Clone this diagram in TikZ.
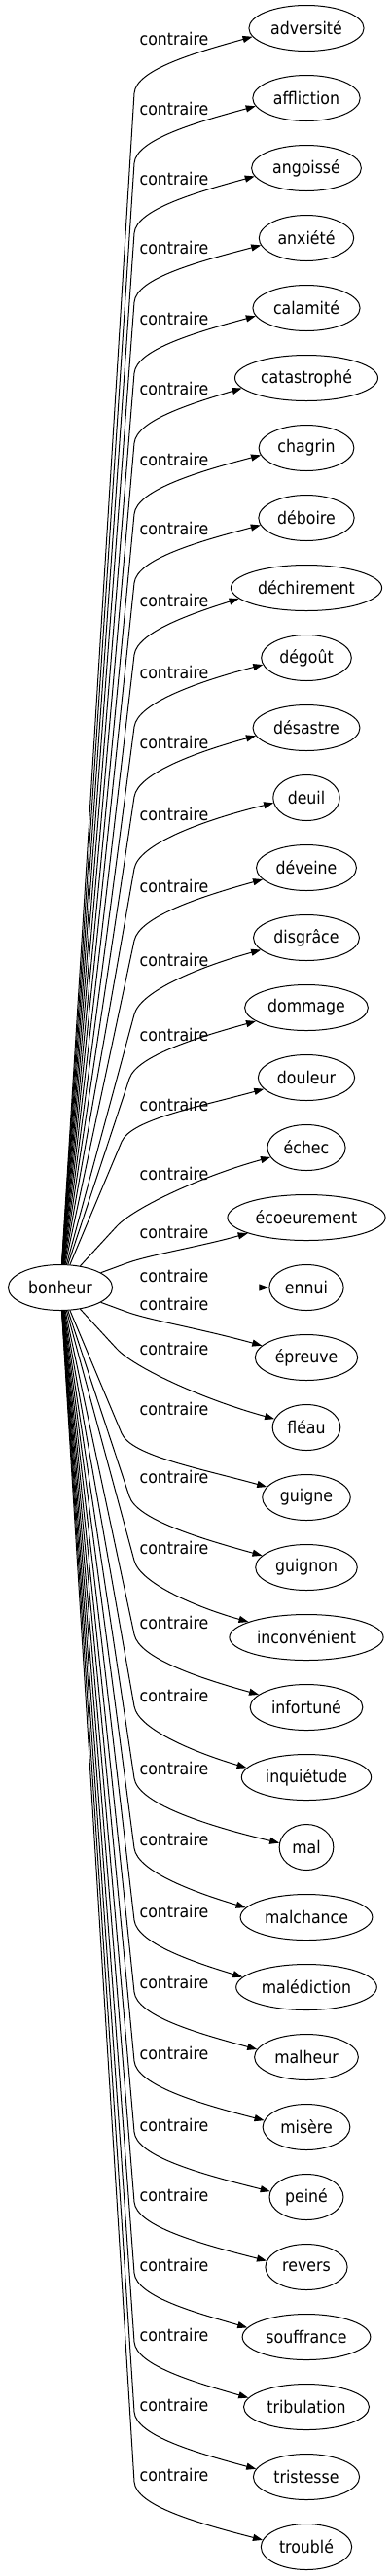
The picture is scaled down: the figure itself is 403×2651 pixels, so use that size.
\documentclass[tikz,border=0pt]{standalone}
\usepackage{fontspec}
\setmainfont{DejaVu Sans}[FakeStretch=0.9]
\usetikzlibrary{arrows.meta,shapes.geometric,calc}

\begin{document}
\begin{tikzpicture}[x=1pt,y=-1pt,line width=1pt,
    >={Triangle[length=10pt,width=7pt]},
    every node/.style={font=\fontsize{17.5}{21}\selectfont},
    word/.style={draw,ellipse,inner xsep=5pt,inner ysep=0pt,minimum height=47pt},
    lbl/.style={inner sep=0pt}]
    \useasboundingbox (0,0) rectangle (403,2651);
    \node[word] (b) at (62,1325) {bonheur};
    % the straight one in the middle
    \node[word] (t18) at (315,1325) {ennui};
    \draw[->] (b) -- (t18) node[lbl,at={(179,1313)}] (l18) {contraire};
    % index/word/label y/bend x/bend y/side/tip angle/control offset
    \foreach \i/\w/\L/\px/\py/\s/\a/\c in {
      0/adversité/40/138/96/1/9/24,
      1/affliction/112/138/168/1/9/24,
      2/angoissé/184/138/240/1/9/24,
      3/anxiété/255/138/311/1/9/24,
      4/calamité/328/138/384/1/9/24,
      5/catastrophé/400/138/456/1/9/24,
      6/chagrin/473/138/529/1/9/24,
      7/déboire/544/138/600/1/9/24,
      8/déchirement/618/138/674/1/9/24,
      9/dégoût/692/138/748/1/9/24,
      10/désastre/764/138/820/1/9/24,
      11/deuil/838/138/894/1/9/24,
      12/déveine/912/138/968/1/15/30,
      13/disgrâce/988/138/1044/1/15/30,
      14/dommage/1065/133/1110/1/15/30,
      15/douleur/1137/125/1175/1/15/30,
      16/échec/1208/120/1262/1/15/30,
      17/écoeurement/1268/130/1300/1/15/30,
      19/épreuve/1342/130/1350/-1/15/30,
      20/fléau/1388/120/1388/-1/15/30,
      21/guigne/1450/125/1475/-1/15/30,
      22/guignon/1520/133/1540/-1/15/30,
      23/inconvénient/1593/138/1606/-1/15/30,
      24/infortuné/1670/138/1682/-1/15/30,
      25/inquiétude/1745/138/1756/-1/9/24,
      26/mal/1820/138/1830/-1/9/24,
      27/malchance/1893/138/1902/-1/9/24,
      28/malédiction/1967/138/1976/-1/9/24,
      29/malheur/2040/138/2050/-1/9/24,
      30/misère/2113/138/2121/-1/9/24,
      31/peiné/2187/138/2194/-1/9/24,
      32/revers/2259/138/2266/-1/9/24,
      33/souffrance/2331/138/2339/-1/9/24,
      34/tribulation/2403/138/2410/-1/9/24,
      35/tristesse/2475/138/2482/-1/9/24,
      36/troublé/2547/138/2554/-1/9/24}{
      \pgfmathsetmacro\T{29+72*\i}
      \pgfmathsetmacro\cy{\T+\s*\c}
      \pgfmathtruncatemacro\ang{180+\s*\a}
      \node[word] (t\i) at (315,\T) {\w};
      \draw[->] (b) -- (\px,\py) .. controls ($(\px,\py)!-25pt!(b.center)$) and (205,\cy) .. (t\i.\ang)
        node[lbl,at={(179,\L)}] (l\i) {contraire};
    }
\end{tikzpicture}
\end{document}
